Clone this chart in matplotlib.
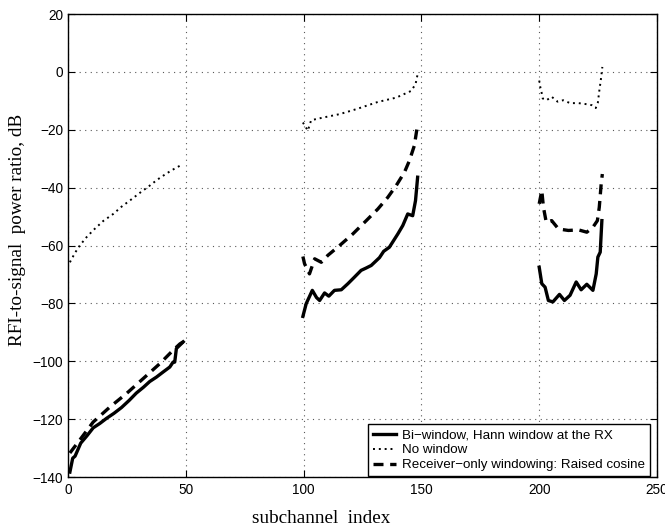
import numpy as np
import matplotlib
matplotlib.use("Agg")
import matplotlib.pyplot as plt

nan = np.nan

# Bi-window, Hann window at the RX (solid)
bi_x = [0.8, 2, 3, 5.4, 8, 10.7, 13.5, 16.4, 19.5, 22.7, 26, 29, 32, 34.7, 37.5, 40.4, 43.2, 44.6, 45.3, 46, 48.9,
        nan,
        99.7, 101.1, 103.7, 105.5, 106.8, 108.9, 110.7, 113.1, 116, 118.8, 121.5, 124.4, 126.5, 128.7, 132.2, 134,
        136.4, 140, 142.1, 144.2, 146.3, 147.5, 148.4,
        nan,
        200, 201.1, 202.5, 203.9, 205.8, 208.6, 210.7, 213.1, 215.7, 217.8, 220.2, 222.8, 224.2, 224.9, 225.9, 226.6]
bi_y = [-138.3, -133.5, -132.8, -128.3, -125.8, -123, -121.5, -119.7, -118, -116, -113.5, -111, -109, -107, -105.5,
        -103.7, -102, -100.3, -100.3, -95.6, -93.3,
        nan,
        -84.5, -80.1, -75.5, -78, -79, -76.4, -77.5, -75.5, -75.3, -73.2, -71, -68.6, -67.8, -66.9, -64.2, -62,
        -60.6, -56, -53.1, -49.1, -49.7, -44.5, -36.4,
        nan,
        -67.5, -73.2, -74.4, -79, -79.5, -76.9, -79, -77.2, -72.6, -75.3, -73.4, -75.5, -69.8, -64, -62.3, -51.4]

# No window (dotted)
nw_x = [0.8, 3, 5, 7.9, 11, 15, 19.2, 22.7, 27, 31, 34.7, 38, 41.1, 44, 46.7, 48,
        nan,
        99.7, 101.8, 103.2, 108.2, 115.3, 122.3, 131.5, 139.3, 145.6, 147.5, 148.4,
        nan,
        200, 200.5, 201, 201.5, 203.1, 205.3, 207.8, 210.2, 213.1, 216.7, 219.5, 222.3, 224, 224.9, 225.5, 226.2, 226.8]
nw_y = [-65.8, -62.5, -60, -57.1, -54.5, -51.5, -49.1, -46.6, -44, -41.5, -39.3, -37.2, -35.5, -34, -32.8, -32.2,
        nan,
        -17.5, -20.3, -16.7, -15.8, -14.6, -12.9, -10.4, -8.9, -6.6, -4.3, -0.8,
        nan,
        -3, -5.4, -7.1, -9.2, -9.8, -8.6, -10.3, -9.8, -10.8, -10.8, -11.1, -11.5, -12.5, -10.6, -6.6, -2.5, 1.7]

# Receiver-only windowing: Raised cosine (dashed)
rc_x = [0.8, 5, 10.7, 17.8, 24.9, 31.9, 39, 44.6, 47.5, 48.9,
        nan,
        99.7, 100.4, 102.5, 104.7, 107.5, 110.3, 115.3, 120.9, 126.6, 131.5, 135.7, 139.3, 142.8, 144.9, 147, 148.2,
        nan,
        200, 201.1, 201.8, 203, 205.3, 208.2, 212.4, 216.7, 220.2, 222.8, 224.7, 225.5, 226.3, 226.8]
rc_y = [-131.7, -127.2, -121, -115.8, -111.1, -106, -100.8, -96.2, -94, -93.3,
        nan,
        -63.8, -66.3, -69.8, -64.6, -65.8, -63.4, -60, -56, -51.4, -47.4, -43.4, -39.3, -34.7, -30.7, -25.5, -19.2,
        nan,
        -45.6, -41, -46.8, -52, -51.4, -54.3, -54.8, -54.6, -55.4, -53.7, -51.4, -46.8, -38.8, -35.3]

labels = ["Bi\u2212window, Hann window at the RX", "No window",
          "Receiver\u2212only windowing: Raised cosine"]
xticks = [0, 50, 100, 150, 200, 250]
yticks = [-140, -120, -100, -80, -60, -40, -20, 0, 20]

plt.rcParams['font.family'] = ['Liberation Sans', 'DejaVu Sans']

fig = plt.figure(figsize=(6.65, 5.31), dpi=100)
ax = fig.add_axes([68 / 665, 54 / 531, 589 / 665, 463 / 531])

ax.plot(bi_x, bi_y, color='black', lw=2.4, ls='-', label=labels[0])
ax.plot(nw_x, nw_y, color='black', lw=1.4, ls=(0, (1, 2)), label=labels[1])
ax.plot(rc_x, rc_y, color='black', lw=2.4, ls=(0, (3, 2)), label=labels[2])

ax.set_xlim(0, 250)
ax.set_ylim(-140, 20)
ax.set_xticks(xticks)
ax.set_yticks(yticks)
ax.tick_params(direction='in', length=5, width=0.8, top=True, right=True, labelsize=9.8)
ax.tick_params(axis='y', pad=3.5)
ax.tick_params(axis='x', pad=4.5)
ax.grid(True, color='0.35', ls=(0, (1, 4)), lw=0.8)
for s in ax.spines.values():
    s.set_linewidth(1.0)

ax.set_xlabel("subchannel  index", family=['Liberation Serif'], fontsize=13.8)
ax.set_ylabel("RFI-to-signal  power ratio, dB", family=['Liberation Serif'], fontsize=13.8)
ax.xaxis.set_label_coords(0.43, -0.089)
ax.xaxis.label.set_va('center')
ax.yaxis.set_label_coords(-0.085, 0.533)
ax.yaxis.label.set_va('center')

leg = ax.legend(loc='lower right', bbox_to_anchor=(0.988, 0.002), borderaxespad=0, fancybox=False,
                edgecolor='black', framealpha=1, fontsize=9.6, handlelength=1.7, borderpad=0.35,
                labelspacing=0.2, handletextpad=0.5)
leg.get_frame().set_linewidth(1.0)

fig.savefig("out.png", dpi=100)
